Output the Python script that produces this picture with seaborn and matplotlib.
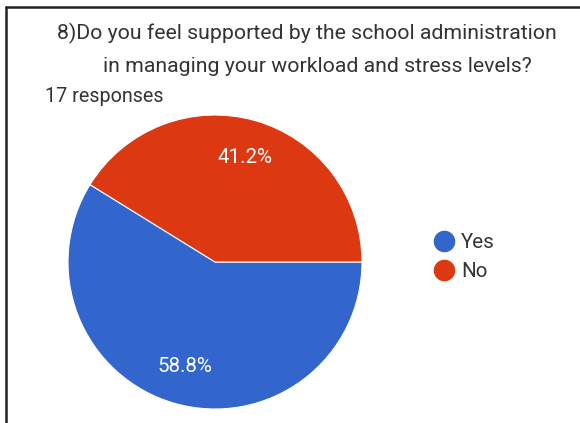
import matplotlib
matplotlib.use("Agg")
import matplotlib.pyplot as plt
from matplotlib.lines import Line2D
import seaborn as sns

categories = ["Yes", "No"]
values = [10, 7]
colors = ["#3366CC", "#DC3912"]
title_lines = ["8)Do you feel supported by the school administration",
               "in managing your workload and stress levels?"]
subtitle = "17 responses"

sns.set_theme(style="white")
plt.rcParams['font.family'] = ['Roboto', 'DejaVu Sans']

W, H = 580, 423
fig = plt.figure(figsize=(W / 100, H / 100), dpi=100)
fig.patch.set_facecolor("white")

cx, cy, r = 215, 262, 147
ax = fig.add_axes([(cx - r) / W, (H - cy - r) / H, 2 * r / W, 2 * r / H])
wedges, texts, autotexts = ax.pie(
    values, colors=colors, startangle=0, counterclock=False,
    autopct="%1.1f%%", pctdistance=0.74, radius=1,
    wedgeprops=dict(edgecolor="white", linewidth=0.8),
    textprops=dict(color="white", fontsize=14.8))
ax.set_xlim(-1, 1)
ax.set_ylim(-1, 1)
ax.set_aspect("equal")
ax.axis("off")

# titles
fig.text(307 / W, 1 - 33 / H, title_lines[0], ha="center", va="center",
         fontsize=15.3, color="#333333")
fig.text(317 / W, 1 - 67 / H, title_lines[1], ha="center", va="center",
         fontsize=15.3, color="#333333")
fig.text(45 / W, 1 - 97 / H, subtitle, ha="left", va="center",
         fontsize=14.2, color="#333333")

# legend
handles = [Line2D([0], [0], marker="o", linestyle="", markersize=14.5,
                  markerfacecolor=c, markeredgecolor=c) for c in colors]
fig.legend(handles, categories, loc="center left",
           bbox_to_anchor=(414 / W, 1 - 257 / H), frameon=False,
           fontsize=14.8, handlelength=1.5, handletextpad=0.1,
           labelspacing=0.5, labelcolor="#333333", borderpad=0.2)

# border lines
fig.add_artist(Line2D([6 / W, 1], [1 - 7 / H, 1 - 7 / H], color="#222222",
                      linewidth=1.8, transform=fig.transFigure))
fig.add_artist(Line2D([6 / W, 6 / W], [0, 1 - 7 / H], color="#222222",
                      linewidth=1.8, transform=fig.transFigure))

fig.savefig("out.png", dpi=100, facecolor="white")
